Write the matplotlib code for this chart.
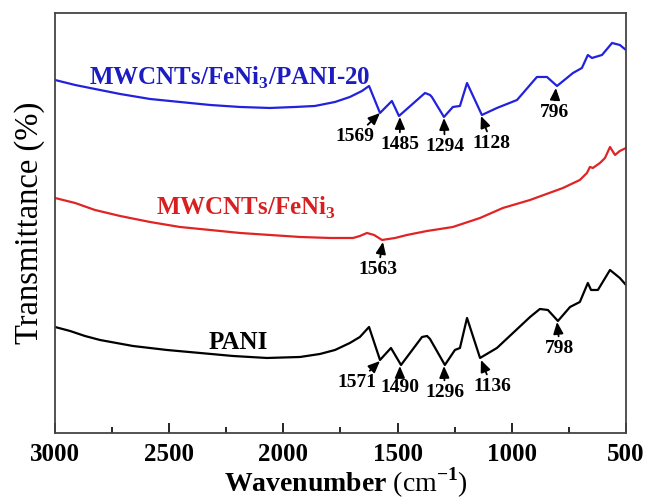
import matplotlib
matplotlib.use('Agg')
import matplotlib.pyplot as plt

plt.rcParams['font.family'] = 'Liberation Serif'
plt.rcParams['font.weight'] = 'bold'
plt.rcParams['mathtext.fontset'] = 'custom'
plt.rcParams['mathtext.rm'] = 'Liberation Serif'
plt.rcParams['mathtext.bf'] = 'Liberation Serif:bold'

# FT-IR spectra, transmittance in arbitrary units (offset traces)
wn_pani20 = [3000, 2912, 2825, 2715, 2584, 2453, 2321, 2190, 2059, 1949, 1862, 1774, 1709, 1656,
             1625, 1577, 1525, 1494, 1380, 1358, 1350, 1297, 1258, 1227, 1196, 1131, 1065, 977,
             890, 846, 802, 732, 693, 667, 649, 605, 561, 527, 500]
t_pani20 = [353, 348, 344, 339, 334, 331, 328, 326, 325, 326, 327, 331, 336, 342,
            347, 320, 332, 317, 340, 338, 336, 316, 326, 327, 350, 318, 325, 333,
            356, 356, 347, 360, 365, 378, 375, 378, 390, 388, 383]

wn_fe = [3000, 2912, 2825, 2715, 2584, 2453, 2321, 2190, 2059, 1927, 1796, 1695, 1665, 1634,
         1603, 1568, 1511, 1459, 1371, 1314, 1258, 1139, 1039, 920, 776, 702, 671, 658, 645,
         614, 592, 570, 548, 527, 500]
t_fe = [235, 230, 223, 217, 211, 206, 203, 200, 198, 196, 195, 195, 197, 200,
        198, 193, 195, 198, 202, 204, 206, 215, 225, 233, 245, 253, 260, 266, 265,
        270, 275, 286, 278, 282, 285]

wn_pani = [3000, 2934, 2869, 2803, 2659, 2510, 2365, 2221, 2072, 1927, 1840, 1774, 1709, 1665,
           1625, 1577, 1529, 1485, 1393, 1371, 1358, 1293, 1249, 1227, 1196, 1139, 1065, 920,
           877, 842, 798, 745, 702, 667, 653, 623, 570, 527, 500]
t_pani = [106, 102, 97, 93, 87, 83, 80, 77, 75, 76, 79, 83, 90, 96,
          106, 73, 85, 68, 96, 97, 94, 68, 83, 85, 115, 75, 85, 116,
          124, 123, 112, 126, 131, 150, 143, 143, 163, 155, 148]

# peak labels: text, arrow head (wn, T), text position (wn, T)
peaks = [
    ('1569', (1577, 320), (1687, 296)),
    ('1485', (1490, 316), (1490, 288)),
    ('1294', (1297, 315), (1293, 286)),
    ('1128', (1135, 317), (1087, 289)),
    ('796', (807, 345), (815, 320)),
    ('1563', (1564, 191), (1586, 163)),
    ('1571', (1577, 72), (1678, 50)),
    ('1490', (1490, 67), (1490, 45)),
    ('1296', (1297, 67), (1293, 40)),
    ('1136', (1135, 73), (1087, 46)),
    ('798', (802, 111), (789, 84)),
]

fig = plt.figure(figsize=(6.57, 5.03), dpi=100)
ax = fig.add_axes([0.0837, 0.1392, 0.8691, 0.835])

ax.plot(wn_pani20, t_pani20, color='#2222dd', lw=1.6)
ax.plot(wn_fe, t_fe, color='#e02424', lw=1.6)
ax.plot(wn_pani, t_pani, color='black', lw=1.6)

ax.text(2234, 348, r'MWCNTs/FeNi$_\mathbf{3}$/PANI-20', color='#1c1cc0', fontsize=18,
        ha='center', va='baseline')
ax.text(2164, 218, r'MWCNTs/FeNi$_\mathbf{3}$', color='#d82020', fontsize=18,
        ha='center', va='baseline')
ax.text(2199, 84, 'PANI', color='black', fontsize=18, ha='center', va='baseline')

for lab, head, txt in peaks:
    ax.annotate(lab, xy=head, xytext=txt, fontsize=14, ha='center', va='center',
                arrowprops=dict(arrowstyle='-|>,head_length=0.7,head_width=0.3',
                                color='black', lw=1.3, mutation_scale=10,
                                shrinkA=1, shrinkB=0))

ax.set_xlim(3000, 500)
ax.set_ylim(0, 420)
ax.set_xticks([3000, 2500, 2000, 1500, 1000, 500])
ax.set_xticks([2750, 2250, 1750, 1250, 750], minor=True)
ax.set_yticks([])
ax.tick_params(axis='x', which='major', direction='in', length=7, width=1.2,
               labelsize=18, pad=7, top=False)
ax.tick_params(axis='x', which='minor', direction='in', length=4, width=1.2, top=False)
for s in ax.spines.values():
    s.set_linewidth(1.3)
    s.set_color('#444444')

ax.set_xlabel(r'$\mathbf{Wavenumber}$ (cm$^{-1}$)', fontsize=20, fontweight='normal', va='center')
ax.xaxis.set_label_coords(0.51, -0.118)
ax.set_ylabel('Transmittance (%)', fontsize=23.5, va='center')
ax.yaxis.set_label_coords(-0.044, 0.50)

fig.savefig('out.png', dpi=100)
